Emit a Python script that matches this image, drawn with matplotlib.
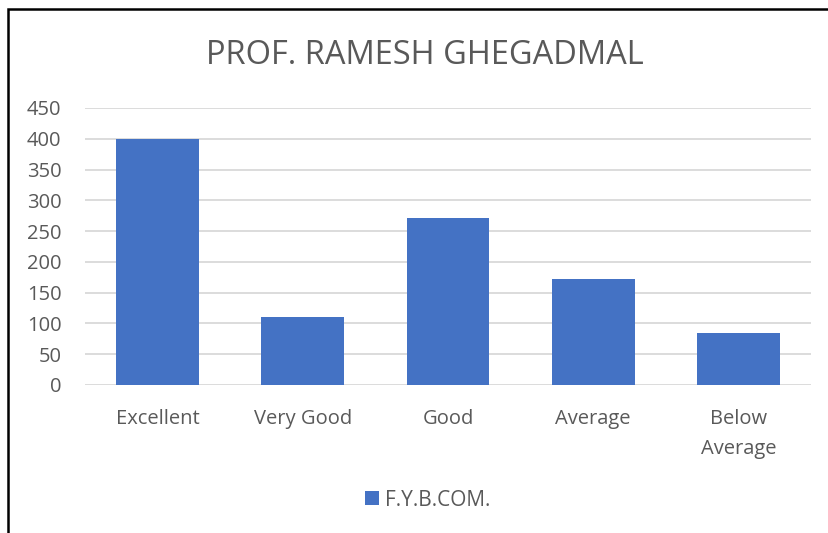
import matplotlib.pyplot as plt
from matplotlib.patches import Rectangle

# Data
categories = ['Excellent', 'Very Good', 'Good', 'Average', 'Below\nAverage']
values = [400, 111, 272, 173, 84]
series_name = 'F.Y.B.COM.'
title = 'PROF. RAMESH GHEGADMAL'
yticks = [0, 50, 100, 150, 200, 250, 300, 350, 400, 450]

plt.rcParams['font.family'] = ['Open Sans', 'DejaVu Sans']
W, H = 829, 533
fig = plt.figure(figsize=(W / 100, H / 100), dpi=100)
ax = fig.add_axes([85 / W, (H - 385) / H, (811 - 85) / W, (385 - 108) / H])

bars = ax.bar(range(len(categories)), values, width=0.57, color='#4472C4',
              label=series_name, zorder=3)
ax.set_xlim(-0.5, len(categories) - 0.5)
ax.set_ylim(0, 450)
ax.set_yticks(yticks)
ax.set_xticks(range(len(categories)))
ax.set_xticklabels(categories, fontsize=14.5, color='#595959', linespacing=1.7)
ax.tick_params(axis='y', labelsize=14.5, colors='#595959', length=0, pad=17)
ax.tick_params(axis='x', length=0, pad=17)
ax.grid(axis='y', color='#D9D9D9', linewidth=1.3, zorder=0)
for s in ax.spines.values():
    s.set_visible(False)

fig.text(425 / W, 1 - 55 / H, title, ha='center', va='center',
         fontsize=23.5, color='#595959')

fig.legend(handles=[bars], labels=[series_name], loc='center',
           bbox_to_anchor=(428 / W, 1 - 500 / H), frameon=False,
           fontsize=15, labelcolor='#595959', handlelength=0.65,
           handleheight=0.65, handletextpad=0.3)

# chart border (cut off at right and bottom, as in the screenshot)
fig.patches.append(Rectangle((8.5 / W, -0.1), 1.1, 1 - 8.5 / H + 0.1,
                             transform=fig.transFigure, fill=False,
                             edgecolor='black', linewidth=1.8))

fig.savefig('out.png', dpi=100)
